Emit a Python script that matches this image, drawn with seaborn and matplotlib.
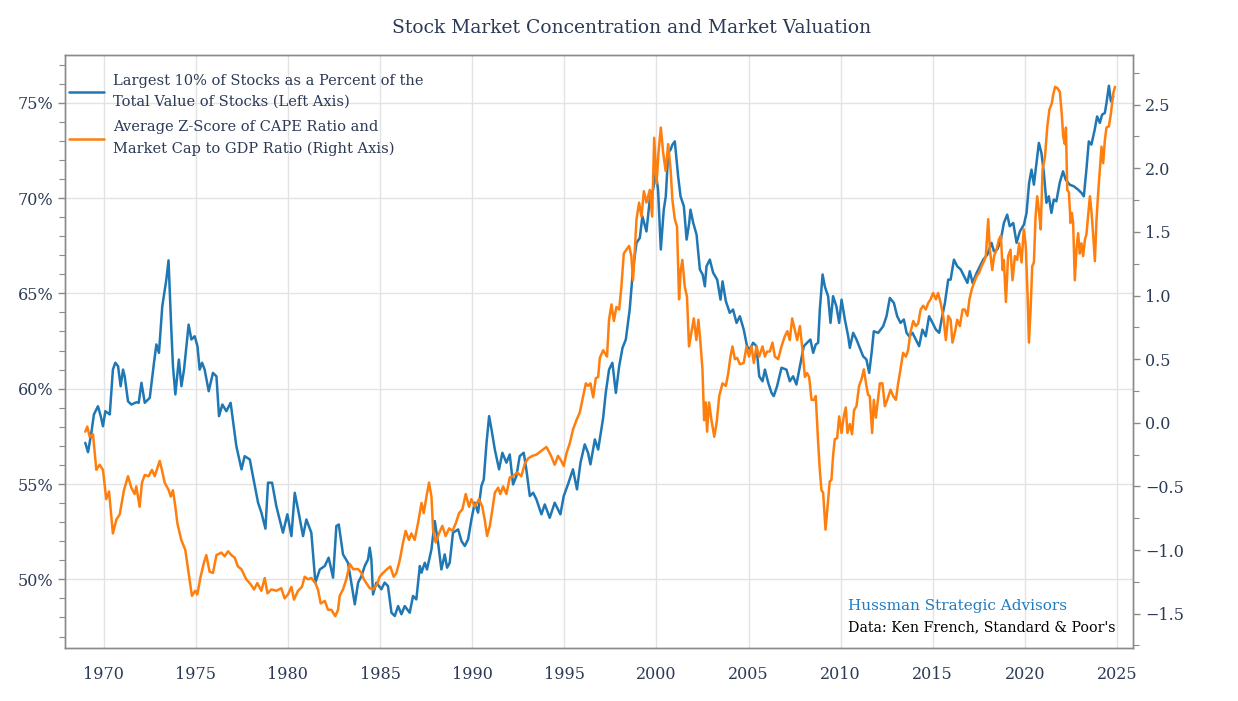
import numpy as np
import matplotlib
matplotlib.use("Agg")
import matplotlib.pyplot as plt
from matplotlib.ticker import MultipleLocator, FuncFormatter
import seaborn as sns

# Largest 10% of stocks as % of total value (left axis)
blue_years = [
    1969.00, 1969.15, 1969.33, 1969.47, 1969.69, 1969.84, 1969.96, 1970.09, 1970.33, 1970.50,
    1970.63, 1970.78, 1970.92, 1971.05, 1971.14, 1971.32, 1971.50, 1971.78, 1971.90, 1972.05,
    1972.23, 1972.50, 1972.73, 1972.86, 1973.00, 1973.18, 1973.40, 1973.52, 1973.67, 1973.76,
    1973.89, 1974.08, 1974.22, 1974.36, 1974.61, 1974.76, 1974.94, 1975.09, 1975.21, 1975.34,
    1975.48, 1975.70, 1975.93, 1976.12, 1976.26, 1976.44, 1976.66, 1976.89, 1977.20, 1977.48,
    1977.65, 1977.93, 1978.10, 1978.38, 1978.56, 1978.78, 1978.92, 1979.14, 1979.37, 1979.73,
    1979.97, 1980.19, 1980.37, 1980.55, 1980.82, 1981.00, 1981.27, 1981.49, 1981.73, 1982.00,
    1982.21, 1982.45, 1982.63, 1982.76, 1982.99, 1983.26, 1983.44, 1983.63, 1983.81, 1983.99,
    1984.17, 1984.35, 1984.44, 1984.53, 1984.62, 1984.80, 1985.07, 1985.25, 1985.43, 1985.62,
    1985.80, 1985.98, 1986.16, 1986.34, 1986.61, 1986.79, 1986.97, 1987.16, 1987.25, 1987.43,
    1987.55, 1987.79, 1987.97, 1988.15, 1988.33, 1988.51, 1988.64, 1988.78, 1988.96, 1989.24,
    1989.42, 1989.60, 1989.78, 1989.96, 1990.14, 1990.32, 1990.50, 1990.63, 1990.78, 1990.92,
    1991.05, 1991.23, 1991.46, 1991.64, 1991.86, 1992.04, 1992.22, 1992.40, 1992.58, 1992.80,
    1992.94, 1993.13, 1993.31, 1993.49, 1993.76, 1993.94, 1994.21, 1994.48, 1994.79, 1994.97,
    1995.20, 1995.47, 1995.69, 1995.88, 1996.11, 1996.29, 1996.42, 1996.66, 1996.84, 1997.11,
    1997.25, 1997.43, 1997.61, 1997.80, 1997.98, 1998.16, 1998.34, 1998.55, 1998.73, 1998.92,
    1999.10, 1999.24, 1999.46, 1999.64, 1999.82, 1999.97, 2000.09, 2000.24, 2000.40, 2000.51,
    2000.64, 2000.77, 2000.87, 2001.00, 2001.18, 2001.31, 2001.49, 2001.64, 2001.78, 2001.85,
    2002.00, 2002.18, 2002.36, 2002.51, 2002.63, 2002.72, 2002.90, 2003.08, 2003.30, 2003.48,
    2003.59, 2003.77, 2003.98, 2004.16, 2004.35, 2004.53, 2004.74, 2004.92, 2005.07, 2005.25,
    2005.43, 2005.58, 2005.76, 2005.89, 2006.07, 2006.25, 2006.37, 2006.55, 2006.79, 2007.06,
    2007.24, 2007.42, 2007.60, 2007.79, 2008.00, 2008.18, 2008.36, 2008.51, 2008.65, 2008.78,
    2008.87, 2009.02, 2009.14, 2009.32, 2009.45, 2009.59, 2009.77, 2009.92, 2010.05, 2010.23,
    2010.41, 2010.50, 2010.68, 2010.86, 2011.04, 2011.22, 2011.40, 2011.55, 2011.68, 2011.80,
    2012.04, 2012.31, 2012.49, 2012.67, 2012.89, 2013.07, 2013.25, 2013.43, 2013.58, 2013.72,
    2013.90, 2014.08, 2014.26, 2014.44, 2014.62, 2014.80, 2014.99, 2015.17, 2015.35, 2015.48,
    2015.66, 2015.84, 2015.97, 2016.15, 2016.33, 2016.52, 2016.70, 2016.88, 2017.01, 2017.16,
    2017.38, 2017.56, 2017.74, 2017.96, 2018.19, 2018.32, 2018.50, 2018.68, 2018.86, 2019.04,
    2019.18, 2019.37, 2019.55, 2019.73, 2019.95, 2020.09, 2020.23, 2020.36, 2020.49, 2020.63,
    2020.76, 2020.90, 2021.03, 2021.17, 2021.30, 2021.44, 2021.57, 2021.71, 2021.89, 2022.07,
    2022.22, 2022.43, 2022.65, 2022.89, 2023.07, 2023.20, 2023.34, 2023.47, 2023.61, 2023.79,
    2023.92, 2024.07, 2024.19, 2024.34, 2024.43, 2024.56, 2024.67, 2024.80,
]
blue_pct = [
    57.16, 56.67, 57.69, 58.65, 59.08, 58.56, 58.03, 58.82, 58.65, 61.00,
    61.36, 61.18, 60.13, 61.00, 60.65, 59.34, 59.17, 59.29, 59.26, 60.31,
    59.26, 59.52, 61.36, 62.32, 61.88, 64.32, 65.72, 66.73, 63.10, 61.18,
    59.70, 61.53, 60.13, 61.00, 63.36, 62.58, 62.75, 62.23, 61.00, 61.36,
    61.00, 59.87, 60.83, 60.65, 58.56, 59.17, 58.82, 59.26, 56.99, 55.77,
    56.46, 56.29, 55.42, 54.02, 53.50, 52.66, 55.07, 55.07, 53.84, 52.45,
    53.41, 52.27, 54.54, 53.67, 52.27, 53.14, 52.45, 49.83, 50.52, 50.70,
    51.14, 50.09, 52.80, 52.88, 51.31, 50.87, 49.83, 48.69, 49.83, 50.17,
    50.70, 51.05, 51.66, 51.05, 49.21, 49.83, 49.48, 49.83, 49.65, 48.25,
    48.08, 48.60, 48.17, 48.60, 48.25, 49.13, 48.95, 50.70, 50.35, 50.87,
    50.52, 51.57, 53.06, 51.92, 50.52, 51.31, 50.61, 50.87, 52.45, 52.62,
    52.01, 51.75, 52.10, 53.14, 54.02, 53.50, 54.89, 55.24, 57.16, 58.56,
    57.86, 56.81, 55.77, 56.64, 56.12, 56.55, 54.98, 55.42, 56.46, 56.64,
    55.77, 54.37, 54.54, 54.19, 53.41, 53.93, 53.23, 54.02, 53.41, 54.37,
    54.98, 55.77, 54.72, 56.12, 57.08, 56.64, 56.03, 57.34, 56.81, 58.47,
    59.78, 61.00, 61.36, 59.78, 61.18, 62.14, 62.58, 64.15, 66.25, 67.65,
    67.91, 69.04, 68.25, 69.92, 70.44, 71.32, 70.44, 67.30, 69.39, 70.09,
    72.36, 72.54, 72.80, 72.97, 71.14, 70.09, 69.57, 67.82, 68.69, 69.39,
    68.69, 68.08, 66.25, 65.99, 65.37, 66.42, 66.77, 66.08, 65.72, 64.67,
    65.63, 64.59, 63.98, 64.15, 63.45, 63.80, 63.10, 62.23, 62.05, 62.41,
    62.23, 60.65, 60.39, 61.00, 60.31, 59.78, 59.61, 60.13, 61.10, 61.00,
    60.39, 60.65, 60.22, 61.18, 62.23, 62.41, 62.58, 61.88, 62.32, 62.41,
    64.15, 65.99, 65.37, 64.85, 63.45, 64.85, 64.32, 63.45, 64.67, 63.63,
    62.75, 62.14, 62.93, 62.58, 62.14, 61.70, 61.53, 60.83, 61.88, 63.01,
    62.93, 63.28, 63.80, 64.76, 64.50, 63.80, 63.45, 63.63, 62.93, 62.75,
    62.93, 62.58, 62.23, 63.10, 62.75, 63.80, 63.45, 63.10, 62.93, 63.63,
    64.50, 65.72, 65.72, 66.77, 66.42, 66.25, 65.90, 65.55, 66.16, 65.55,
    66.07, 66.42, 66.77, 67.03, 67.65, 67.21, 67.30, 67.73, 68.69, 69.13,
    68.52, 68.69, 67.65, 68.25, 68.61, 69.22, 70.79, 71.49, 70.70, 71.84,
    72.89, 72.36, 71.32, 69.75, 70.09, 69.22, 69.92, 69.83, 70.79, 71.40,
    70.96, 70.70, 70.62, 70.44, 70.27, 70.09, 71.49, 72.97, 72.80, 73.58,
    74.28, 73.94, 74.37, 74.46, 74.98, 75.89, 75.07, 75.33,
]

# Average z-score of CAPE and market cap / GDP (right axis)
orange_years = [
    1969.00, 1969.11, 1969.24, 1969.42, 1969.60, 1969.78, 1969.96, 1970.14, 1970.29, 1970.50,
    1970.69, 1970.87, 1971.10, 1971.32, 1971.50, 1971.68, 1971.77, 1971.95, 1972.08, 1972.23,
    1972.44, 1972.62, 1972.77, 1973.04, 1973.16, 1973.31, 1973.53, 1973.64, 1973.76, 1973.89,
    1974.00, 1974.21, 1974.43, 1974.61, 1974.79, 1974.97, 1975.08, 1975.26, 1975.44, 1975.57,
    1975.75, 1975.93, 1976.12, 1976.39, 1976.57, 1976.75, 1976.93, 1977.11, 1977.29, 1977.47,
    1977.74, 1977.98, 1978.16, 1978.34, 1978.56, 1978.74, 1978.89, 1979.10, 1979.38, 1979.64,
    1979.82, 1980.00, 1980.19, 1980.33, 1980.55, 1980.76, 1980.91, 1981.09, 1981.27, 1981.49,
    1981.63, 1981.78, 1982.00, 1982.18, 1982.36, 1982.57, 1982.72, 1982.81, 1982.99, 1983.17,
    1983.36, 1983.54, 1983.81, 1983.99, 1984.12, 1984.26, 1984.44, 1984.62, 1984.84, 1984.98,
    1985.16, 1985.38, 1985.56, 1985.74, 1985.89, 1986.07, 1986.25, 1986.39, 1986.57, 1986.70,
    1986.88, 1987.06, 1987.25, 1987.37, 1987.52, 1987.66, 1987.79, 1987.88, 1988.02, 1988.20,
    1988.38, 1988.56, 1988.75, 1988.93, 1989.11, 1989.29, 1989.47, 1989.65, 1989.83, 1989.96,
    1990.14, 1990.37, 1990.55, 1990.68, 1990.81, 1990.96, 1991.10, 1991.23, 1991.41, 1991.53,
    1991.68, 1991.86, 1992.04, 1992.22, 1992.44, 1992.67, 1992.86, 1993.04, 1993.27, 1993.49,
    1993.76, 1994.03, 1994.25, 1994.48, 1994.66, 1994.84, 1994.97, 1995.12, 1995.30, 1995.48,
    1995.66, 1995.84, 1996.03, 1996.17, 1996.29, 1996.42, 1996.57, 1996.71, 1996.84, 1996.93,
    1997.11, 1997.32, 1997.43, 1997.56, 1997.69, 1997.83, 1997.98, 1998.10, 1998.23, 1998.37,
    1998.52, 1998.64, 1998.73, 1998.83, 1998.92, 1999.06, 1999.19, 1999.32, 1999.46, 1999.64,
    1999.77, 1999.88, 2000.01, 2000.11, 2000.24, 2000.37, 2000.50, 2000.64, 2000.77, 2000.87,
    2001.00, 2001.12, 2001.23, 2001.32, 2001.41, 2001.54, 2001.66, 2001.77, 2001.90, 2002.03,
    2002.17, 2002.28, 2002.39, 2002.50, 2002.59, 2002.68, 2002.75, 2002.86, 2002.99, 2003.14,
    2003.27, 2003.41, 2003.59, 2003.77, 2003.90, 2004.02, 2004.13, 2004.26, 2004.38, 2004.53,
    2004.74, 2004.89, 2005.03, 2005.16, 2005.29, 2005.43, 2005.58, 2005.76, 2005.89, 2006.01,
    2006.16, 2006.30, 2006.43, 2006.61, 2006.79, 2006.97, 2007.11, 2007.24, 2007.37, 2007.51,
    2007.64, 2007.79, 2007.93, 2008.06, 2008.18, 2008.29, 2008.42, 2008.55, 2008.65, 2008.78,
    2008.87, 2008.96, 2009.05, 2009.18, 2009.29, 2009.41, 2009.50, 2009.59, 2009.68, 2009.81,
    2009.92, 2010.05, 2010.17, 2010.28, 2010.37, 2010.50, 2010.62, 2010.73, 2010.86, 2011.00,
    2011.13, 2011.26, 2011.40, 2011.49, 2011.58, 2011.71, 2011.80, 2011.91, 2012.13, 2012.27,
    2012.40, 2012.53, 2012.71, 2012.85, 2013.00, 2013.12, 2013.25, 2013.39, 2013.54, 2013.66,
    2013.79, 2013.94, 2014.08, 2014.21, 2014.34, 2014.48, 2014.62, 2014.75, 2014.88, 2015.02,
    2015.17, 2015.29, 2015.43, 2015.57, 2015.71, 2015.84, 2015.97, 2016.07, 2016.20, 2016.33,
    2016.47, 2016.62, 2016.74, 2016.88, 2016.99, 2017.12, 2017.24, 2017.38, 2017.52, 2017.65,
    2017.78, 2017.88, 2018.01, 2018.10, 2018.23, 2018.33, 2018.46, 2018.59, 2018.70, 2018.79,
    2018.86, 2018.97, 2019.09, 2019.22, 2019.33, 2019.46, 2019.58, 2019.69, 2019.82, 2019.94,
    2020.05, 2020.15, 2020.22, 2020.31, 2020.40, 2020.49, 2020.58, 2020.67, 2020.76, 2020.86,
    2020.96, 2021.09, 2021.22, 2021.33, 2021.46, 2021.54, 2021.64, 2021.76, 2021.90, 2022.00,
    2022.08, 2022.17, 2022.23, 2022.30, 2022.39, 2022.48, 2022.55, 2022.62, 2022.71, 2022.80,
    2022.89, 2022.98, 2023.07, 2023.16, 2023.26, 2023.34, 2023.43, 2023.53, 2023.62, 2023.71,
    2023.80, 2023.89, 2023.98, 2024.07, 2024.16, 2024.25, 2024.34, 2024.43, 2024.56, 2024.67,
    2024.80, 2024.89,
]
orange_z = [
    -0.07, -0.03, -0.11, -0.09, -0.37, -0.33, -0.37, -0.60, -0.54, -0.87,
    -0.76, -0.72, -0.53, -0.42, -0.51, -0.56, -0.50, -0.66, -0.47, -0.41,
    -0.42, -0.37, -0.42, -0.30, -0.37, -0.47, -0.53, -0.58, -0.53, -0.66,
    -0.79, -0.92, -1.00, -1.18, -1.36, -1.32, -1.35, -1.21, -1.10, -1.04,
    -1.17, -1.18, -1.04, -1.02, -1.05, -1.01, -1.04, -1.06, -1.13, -1.15,
    -1.23, -1.27, -1.31, -1.26, -1.32, -1.22, -1.34, -1.31, -1.32, -1.30,
    -1.38, -1.35, -1.29, -1.39, -1.32, -1.29, -1.21, -1.23, -1.22, -1.26,
    -1.31, -1.42, -1.40, -1.47, -1.47, -1.52, -1.47, -1.36, -1.31, -1.23,
    -1.11, -1.15, -1.15, -1.18, -1.23, -1.26, -1.30, -1.31, -1.27, -1.21,
    -1.18, -1.15, -1.13, -1.21, -1.18, -1.08, -0.94, -0.85, -0.92, -0.87,
    -0.92, -0.79, -0.63, -0.71, -0.58, -0.47, -0.58, -0.84, -0.94, -0.87,
    -0.81, -0.89, -0.83, -0.85, -0.79, -0.71, -0.68, -0.56, -0.66, -0.60,
    -0.66, -0.60, -0.66, -0.76, -0.89, -0.81, -0.68, -0.55, -0.51, -0.56,
    -0.50, -0.56, -0.43, -0.42, -0.39, -0.42, -0.32, -0.28, -0.26, -0.25,
    -0.22, -0.19, -0.25, -0.33, -0.26, -0.30, -0.34, -0.24, -0.16, -0.05,
    0.02, 0.08, 0.21, 0.31, 0.29, 0.31, 0.20, 0.35, 0.36, 0.51,
    0.57, 0.52, 0.81, 0.93, 0.80, 0.91, 0.89, 1.07, 1.33, 1.36,
    1.39, 1.31, 1.12, 1.36, 1.60, 1.73, 1.62, 1.82, 1.73, 1.83,
    1.62, 2.24, 1.88, 2.12, 2.32, 2.12, 1.98, 2.19, 1.99, 1.75,
    1.60, 1.54, 0.97, 1.20, 1.28, 1.07, 0.99, 0.60, 0.71, 0.82,
    0.65, 0.81, 0.63, 0.42, 0.02, 0.16, -0.07, 0.16, 0.02, -0.11,
    0.00, 0.21, 0.31, 0.29, 0.39, 0.52, 0.60, 0.50, 0.51, 0.46,
    0.47, 0.60, 0.52, 0.60, 0.47, 0.60, 0.52, 0.60, 0.52, 0.56,
    0.56, 0.63, 0.52, 0.50, 0.60, 0.68, 0.72, 0.65, 0.82, 0.73,
    0.65, 0.76, 0.57, 0.36, 0.39, 0.36, 0.18, 0.18, 0.21, -0.16,
    -0.37, -0.53, -0.55, -0.84, -0.66, -0.46, -0.45, -0.26, -0.13, -0.12,
    0.05, -0.08, 0.05, 0.12, -0.08, -0.01, -0.09, 0.10, 0.13, 0.29,
    0.34, 0.42, 0.29, 0.22, 0.21, -0.08, 0.18, 0.04, 0.31, 0.31,
    0.13, 0.18, 0.26, 0.21, 0.18, 0.31, 0.42, 0.55, 0.52, 0.57,
    0.71, 0.80, 0.76, 0.78, 0.89, 0.92, 0.89, 0.94, 0.97, 1.02,
    0.97, 1.02, 0.94, 0.84, 0.65, 0.84, 0.81, 0.63, 0.71, 0.81,
    0.76, 0.89, 0.89, 0.84, 0.97, 1.05, 1.10, 1.15, 1.18, 1.23,
    1.27, 1.31, 1.60, 1.36, 1.20, 1.31, 1.36, 1.44, 1.47, 1.20,
    1.28, 0.95, 1.31, 1.36, 1.12, 1.31, 1.28, 1.41, 1.26, 1.52,
    1.39, 0.99, 0.63, 0.89, 1.23, 1.26, 1.62, 1.78, 1.67, 1.52,
    1.99, 2.09, 2.33, 2.46, 2.51, 2.58, 2.64, 2.63, 2.60, 2.43,
    2.25, 2.19, 2.32, 1.83, 1.81, 1.57, 1.65, 1.57, 1.12, 1.36,
    1.49, 1.33, 1.41, 1.31, 1.44, 1.48, 1.62, 1.78, 1.65, 1.47,
    1.27, 1.60, 1.81, 1.99, 2.17, 2.04, 2.22, 2.32, 2.33, 2.43,
    2.59, 2.64,
]

legend_labels = [
    "Largest 10% of Stocks as a Percent of the\nTotal Value of Stocks (Left Axis)",
    "Average Z-Score of CAPE Ratio and\nMarket Cap to GDP Ratio (Right Axis)",
]

sns.set_style("white")
plt.rcParams['font.family'] = ['DejaVu Serif']
text_color = '#2c3a56'
spine_color = '#8a8a8a'
blue = '#1f77b4'
orange = '#ff7f0e'

fig = plt.figure(figsize=(12.38, 7.01), dpi=100)
ax1 = fig.add_axes([0.0525, 0.0756, 0.8627, 0.8459])
ax2 = ax1.twinx()

sns.lineplot(x=blue_years, y=blue_pct, ax=ax1, color=blue, lw=1.8,
             estimator=None, sort=False, legend=False)
sns.lineplot(x=orange_years, y=orange_z, ax=ax2, color=orange, lw=1.8,
             estimator=None, sort=False, legend=False)

ax1.set_xlim(1967.9, 2025.87)
ax1.set_ylim(46.4, 77.5)
ax2.set_ylim(-1.77, 2.89)

ax1.xaxis.set_major_locator(MultipleLocator(5))
ax1.xaxis.set_minor_locator(MultipleLocator(1))
ax1.yaxis.set_major_locator(MultipleLocator(5))
ax1.yaxis.set_minor_locator(MultipleLocator(1))
ax1.yaxis.set_major_formatter(FuncFormatter(lambda v, p: f"{v:.0f}%"))
ax2.yaxis.set_major_locator(MultipleLocator(0.5))
ax2.yaxis.set_minor_locator(MultipleLocator(0.25))
ax2.yaxis.set_major_formatter(FuncFormatter(lambda v, p: f"{v:.1f}".replace('-', '\u2212')))

ax1.grid(True, which='major', color='#e3e3e3', lw=1.0)
ax1.set_axisbelow(True)
ax1.set_xlabel('')
ax1.set_ylabel('')
ax2.set_ylabel('')

for ax in (ax1, ax2):
    for s in ax.spines.values():
        s.set_color(spine_color)
        s.set_linewidth(1.0)
    ax.tick_params(which='both', direction='out', color=spine_color, labelcolor=text_color,
                   labelsize=11.5)
    ax.tick_params(which='major', length=5, width=1.0)
    ax.tick_params(which='minor', length=4, width=0.8)
ax1.tick_params(axis='x', pad=8)

# legend: entries from both axes, two-line labels
handles = [ax1.get_lines()[0], ax2.get_lines()[0]]
leg = ax2.legend(handles, legend_labels, loc='upper left', frameon=False, fontsize=10.5,
                 handlelength=2.4, handletextpad=0.6, labelspacing=0.8,
                 labelcolor=text_color, borderaxespad=0.0, borderpad=0.3,
                 bbox_to_anchor=(0.0, 0.975))
for t in leg.get_texts():
    t.set_linespacing(1.6)

fig.suptitle('Stock Market Concentration and Market Valuation', x=0.51, y=0.973,
             fontsize=13.5, color=text_color)

fig.text(0.685, 0.135, 'Hussman Strategic Advisors', color='#1f7bc1', fontsize=11,
         va='center', ha='left')
fig.text(0.685, 0.105, "Data: Ken French, Standard & Poor's", color='black', fontsize=10.2,
         va='center', ha='left')

fig.savefig('out.png', dpi=100)
